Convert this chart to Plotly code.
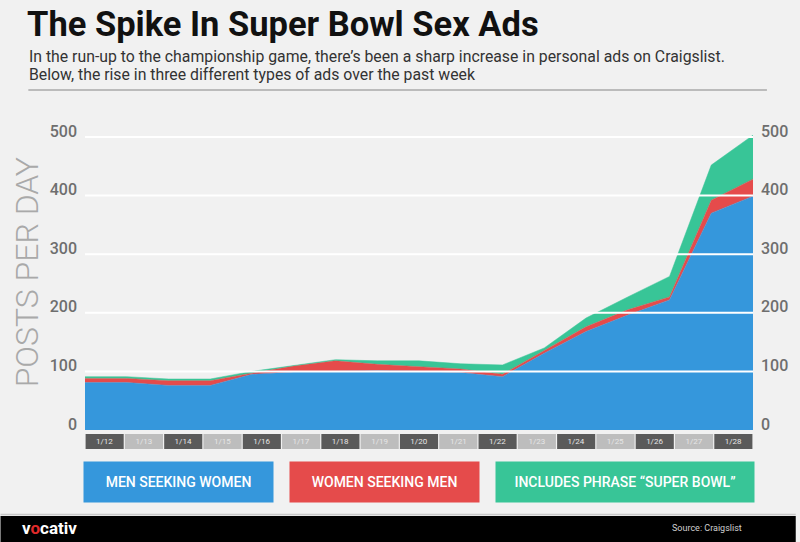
import plotly.graph_objects as go

# ---------------- data ----------------
dates = ["1/12", "1/13", "1/14", "1/15", "1/16", "1/17", "1/18", "1/19", "1/20",
         "1/21", "1/22", "1/23", "1/24", "1/25", "1/26", "1/27", "1/28"]
men_seeking_women = [81, 81, 76, 76, 95, 99, 100, 101, 100, 98, 91, 131, 168, 196, 222, 370, 399]
women_seeking_men = [7, 7, 8, 8, 2, 10, 18, 11, 8, 6, 4, 5, 8, 9, 5, 22, 29]
super_bowl_phrase = [3, 3, 3, 3, 3, 1, 2, 6, 10, 9, 16, 4, 15, 22, 35, 60, 75]
series_names = ["MEN SEEKING WOMEN", "WOMEN SEEKING MEN", "INCLUDES PHRASE \u201cSUPER BOWL\u201d"]
y_ticks = [0, 100, 200, 300, 400, 500]

BLUE = "#3597dc"
RED = "#e54b4b"
GREEN = "#38c597"
BG = "#f1f1f1"

W, H = 800, 542
L, R, T, B = 85, 43, 134, 93   # plot area: x 85..757, y 134..449
PW, PH = W - L - R, H - T - B


def px(xp):
    return (xp - L) / PW


def py(yp):
    return (H - B - yp) / PH


fig = go.Figure()

for vals, col, name in zip([men_seeking_women, women_seeking_men, super_bowl_phrase],
                           [BLUE, RED, GREEN], series_names):
    fig.add_trace(go.Scatter(
        x=dates, y=vals, name=name, stackgroup="one", mode="lines",
        line=dict(width=0.5, color=col), fillcolor=col,
        xaxis="x", yaxis="y", hoverinfo="skip", showlegend=False))

# invisible trace so the right-hand axis is drawn
fig.add_trace(go.Scatter(x=[dates[0], dates[-1]], y=[0, 500], mode="lines",
                         line=dict(width=0, color="rgba(0,0,0,0)"),
                         xaxis="x", yaxis="y3", hoverinfo="skip", showlegend=False))

# date label boxes
box_colors = ["#5a5a5a" if i % 2 == 0 else "#bdbdbd" for i in range(len(dates))]
fig.add_trace(go.Bar(
    x=dates, y=[1] * len(dates), marker=dict(color=box_colors, line=dict(width=0)),
    text=dates, textposition="inside", insidetextanchor="middle",
    textfont=dict(size=8, color="#e6e6e6", family="Roboto"),
    xaxis="x2", yaxis="y2", hoverinfo="skip", showlegend=False))

tick_font = dict(family="Roboto", size=16, color="#6e6e6e", weight=500)
main_bottom = py(430)
fig.update_layout(
    width=W, height=H,
    margin=dict(l=L, r=R, t=T, b=B),
    paper_bgcolor=BG, plot_bgcolor=BG,
    bargap=0.03,
    xaxis=dict(type="category", range=[0, len(dates) - 1], showgrid=False,
               showticklabels=False, zeroline=False, showline=False, ticks=""),
    yaxis=dict(domain=[main_bottom, 1], range=[0, 505], tickvals=y_ticks,
               showgrid=False, zeroline=False, showline=False, ticks="",
               tickfont=tick_font, ticklabelstandoff=7, ticklabelshift=-6),
    yaxis3=dict(overlaying="y", side="right", range=[0, 505], tickvals=y_ticks,
                showgrid=False, zeroline=False, showline=False, ticks="",
                tickfont=tick_font, ticklabelstandoff=7, ticklabelshift=-6),
    xaxis2=dict(type="category", anchor="y2", range=[-0.5, len(dates) - 0.5],
                domain=[0, 1],
                showgrid=False, showticklabels=False, zeroline=False, showline=False),
    yaxis2=dict(domain=[0, py(434)], range=[0, 1], showgrid=False,
                showticklabels=False, zeroline=False, showline=False),
    title=dict(text="<b>The Spike In Super Bowl Sex Ads</b>", x=27 / W, xanchor="left",
               xref="container", yref="container", y=1 - 24 / H, yanchor="middle",
               font=dict(family="Roboto", size=34.5, color="#111111", weight=900)),
    font=dict(family="Roboto"),
)

shapes = []
# white gridlines over the areas
for v in y_ticks[1:]:
    shapes.append(dict(type="line", xref="x domain", yref="y", x0=0, x1=1, y0=v, y1=v,
                       line=dict(color="white", width=2), layer="above"))
# separator under subtitle
shapes.append(dict(type="line", xref="paper", yref="paper", x0=px(28), x1=px(771),
                   y0=py(90), y1=py(90), line=dict(color="#a8a8a8", width=1.5)))
# footer band
shapes.append(dict(type="rect", xref="paper", yref="paper", x0=px(0), x1=px(800),
                   y0=py(516), y1=py(542), fillcolor="#000000", line=dict(width=0)))
shapes.append(dict(type="line", xref="paper", yref="paper", x0=px(0), x1=px(800),
                   y0=py(514.5), y1=py(514.5), line=dict(color="#c8c8c8", width=1.5)))
fig.update_layout(shapes=shapes)

ann = []
sub_font = dict(family="Roboto", size=15.8, color="#333333")
ann.append(dict(text="In the run-up to the championship game, there\u2019s been a sharp increase in personal ads on Craigslist.",
                xref="paper", yref="paper", x=px(27), y=py(56), xanchor="left", yanchor="middle",
                showarrow=False, font=sub_font))
ann.append(dict(text="Below, the rise in three different types of ads over the past week",
                xref="paper", yref="paper", x=px(27), y=py(74), xanchor="left", yanchor="middle",
                showarrow=False, font=sub_font))
ann.append(dict(text="POSTS PER DAY", textangle=-90, xref="paper", yref="paper",
                x=px(27), y=py(272), xanchor="center", yanchor="middle", showarrow=False,
                font=dict(family="Roboto", size=32, color="#a9a9a9", weight=300)))
# legend boxes
legend_boxes = [(85, 274, BLUE), (292, 481, RED), (499, 757, GREEN)]
for name, (x0, x1, col) in zip(series_names, legend_boxes):
    ann.append(dict(text=name, xref="paper", yref="paper", x=px((x0 + x1) / 2), y=py(482),
                    xanchor="center", yanchor="middle", showarrow=False,
                    width=x1 - x0, height=40, bgcolor=col, borderpad=0,
                    font=dict(family="Roboto", size=14, color="white", weight=500)))
# footer texts
ann.append(dict(text="v<span style='color:#e02a2a'>o</span>cativ", xref="paper", yref="paper",
                x=px(20), y=py(528), xanchor="left", yanchor="middle", showarrow=False,
                font=dict(family="Roboto", size=17, color="white", weight=700)))
ann.append(dict(text="Source: Craigslist", xref="paper", yref="paper",
                x=px(748), y=py(528), xanchor="right", yanchor="middle", showarrow=False,
                font=dict(family="Roboto", size=9, color="#d0d0d0")))
fig.update_layout(annotations=ann)

fig.write_html("out.html", config={"displayModeBar": False},
               post_script="document.body.style.margin='0';document.body.style.overflow='hidden';")
